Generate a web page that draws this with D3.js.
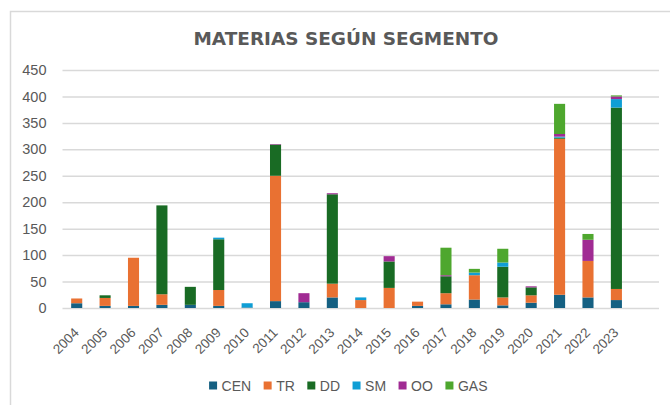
<!DOCTYPE html>
<html>
<head>
<meta charset="utf-8">
<script src="https://cdn.jsdelivr.net/npm/d3@7"></script>
<style>
  html, body { margin: 0; padding: 0; background: #fff; }
  svg { display: block; font-family: "Liberation Sans", Arial, sans-serif; }
</style>
</head>
<body>
<div id="chart"></div>
<script>
const years = ["2004", "2005", "2006", "2007", "2008", "2009", "2010", "2011", "2012", "2013",
  "2014", "2015", "2016", "2017", "2018", "2019", "2020", "2021", "2022", "2023", ""];
const segments = ["CEN", "TR", "DD", "SM", "OO", "GAS"];
const colors = ["#156082", "#E97132", "#196B24", "#0F9ED5", "#A02B93", "#4EA72E"];

const cen = [9, 4, 4, 6, 6, 4, 1, 13, 11, 20, 0, 0, 4, 7, 16, 5, 10, 25, 20, 15, 0];
const tr  = [9, 15, 91, 20, 0, 30, 0, 237, 0, 26, 15, 38, 8, 21, 46, 15, 14, 295, 69, 21, 0];
const dd  = [0, 5, 0, 168, 34, 96, 0, 59, 0, 169, 0, 50, 0, 32, 0, 58, 15, 2, 0, 343, 0];
const sm  = [0, 0, 0, 0, 0, 3, 8, 0, 0, 0, 5, 0, 0, 0, 5, 8, 0, 2, 0, 16, 0];
const oo  = [0, 0, 0, 0, 0, 0, 0, 1, 17, 2, 0, 10, 0, 2, 0, 0, 2, 5, 40, 5, 0];
const gas = [0, 0, 0, 0, 0, 0, 0, 0, 0, 0, 0, 0, 0, 52, 7, 26, 0, 57, 11, 2, 0];
const yTicks = [0, 50, 100, 150, 200, 250, 300, 350, 400, 450];

const width = 670;
const height = 405;
const margin = { top: 70, right: 11, bottom: 97, left: 62.5 };
const textColor = "#595959";
const gridColor = "#d9d9d9";

const rows = years.map((year, i) => ({
  year,
  CEN: cen[i], TR: tr[i], DD: dd[i], SM: sm[i], OO: oo[i], GAS: gas[i]
}));

const stack = d3.stack().keys(segments)(rows);

const svg = d3.select("#chart")
  .append("svg")
  .attr("width", width)
  .attr("height", height);

// chart frame
svg.append("rect")
  .attr("x", 10.5)
  .attr("y", 11.5)
  .attr("width", 700)
  .attr("height", 500)
  .attr("fill", "none")
  .attr("stroke", gridColor)
  .attr("stroke-width", 1.5);

const x = d3.scaleBand()
  .domain(d3.range(years.length))
  .range([margin.left, width - margin.right])
  .paddingInner(0.61)
  .paddingOuter(0.305);

const y = d3.scaleLinear()
  .domain([0, 450])
  .range([height - margin.bottom, margin.top]);

// gridlines + y labels
const yAxis = d3.axisLeft(y)
  .tickValues(yTicks)
  .tickSize(-(width - margin.right - margin.left))
  .tickPadding(16);

svg.append("g")
  .attr("transform", `translate(${margin.left},0)`)
  .call(yAxis)
  .call((g) => g.select(".domain").remove())
  .call((g) => g.selectAll(".tick line").attr("stroke", gridColor).attr("stroke-width", 1.5))
  .call((g) => g.selectAll(".tick text")
    .attr("fill", textColor)
    .attr("font-size", 14.5));

// bars
svg.append("g")
  .selectAll("g")
  .data(stack)
  .join("g")
  .attr("fill", (d, i) => colors[i])
  .selectAll("rect")
  .data((d) => d.map((v, i) => ({ v, i })))
  .join("rect")
  .attr("x", (d) => x(d.i))
  .attr("y", (d) => y(d.v[1]))
  .attr("width", x.bandwidth())
  .attr("height", (d) => Math.max(0, y(d.v[0]) - y(d.v[1])));

// x labels, rotated
const xAxis = d3.axisBottom(x)
  .tickSize(0)
  .tickFormat((i) => years[i]);

svg.append("g")
  .attr("transform", `translate(0,${height - margin.bottom})`)
  .call(xAxis)
  .call((g) => g.select(".domain").remove())
  .call((g) => g.selectAll(".tick text")
    .attr("fill", textColor)
    .attr("font-size", 13.5)
    .attr("text-anchor", "end")
    .attr("x", 0)
    .attr("y", 0)
    .attr("dy", 0)
    .attr("transform", "translate(3,25.5) rotate(-45)"));

// title
svg.append("text")
  .attr("x", 346)
  .attr("y", 45)
  .attr("text-anchor", "middle")
  .attr("fill", textColor)
  .attr("font-family", "'DejaVu Sans', sans-serif")
  .attr("font-weight", "bold")
  .attr("font-size", 18.5)
  .attr("textLength", 305)
  .attr("lengthAdjust", "spacingAndGlyphs")
  .text("MATERIAS SEGÚN SEGMENTO");

// legend
const legendGap = 12.5;
const legend = svg.append("g").attr("transform", "translate(0,385.5)");
const legendItems = legend.selectAll("g")
  .data(segments)
  .join("g");

legendItems.append("rect")
  .attr("width", 8)
  .attr("height", 8)
  .attr("y", -4)
  .attr("fill", (d, i) => colors[i]);

legendItems.append("text")
  .attr("x", 12.5)
  .attr("dy", "0.36em")
  .attr("fill", textColor)
  .attr("font-size", 14)
  .text((d) => d);

let offset = 0;
const positions = [];
legendItems.each(function () {
  positions.push(offset);
  offset += this.getBBox().width + legendGap;
});
offset -= legendGap;
const start = 348.3 - offset / 2;
legendItems.attr("transform", (d, i) => `translate(${start + positions[i]},0)`);
</script>
</body>
</html>
